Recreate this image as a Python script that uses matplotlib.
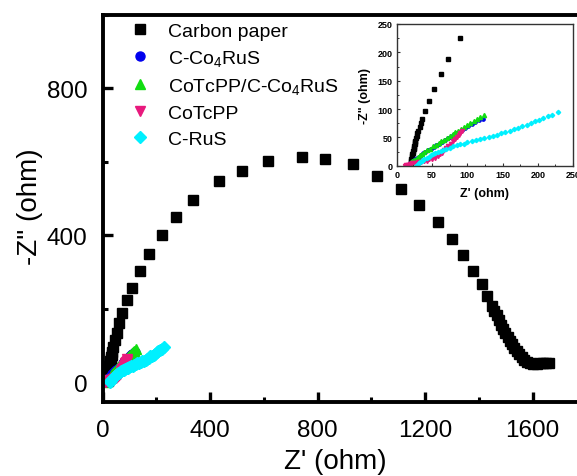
import matplotlib
matplotlib.use("Agg")
import matplotlib.pyplot as plt
from matplotlib.ticker import MultipleLocator

plt.rcParams['font.family'] = ['Liberation Sans', 'DejaVu Sans']
plt.rcParams['mathtext.fontset'] = 'custom'
plt.rcParams['mathtext.rm'] = 'Liberation Sans'
plt.rcParams['mathtext.it'] = 'Liberation Sans:italic'
plt.rcParams['mathtext.bf'] = 'Liberation Sans:bold'

# ---------------- data (ohm) ----------------
cp_x = [19, 19.5, 20, 20.5, 21, 21.5, 22, 22.5, 23, 23.5, 24, 24.5, 25, 25.5, 26, 27, 28, 29,
        30.5, 32, 34, 36, 40, 46, 53, 62, 73, 90, 111, 139, 174, 221, 273, 338, 433, 518,
        617, 741, 828, 931, 1020, 1111, 1179, 1250, 1299, 1340, 1380, 1411, 1430, 1450,
        1458, 1467, 1476, 1484, 1491, 1499, 1507, 1516, 1524, 1532, 1541, 1550, 1560, 1569,
        1578, 1590, 1603, 1615, 1628, 1640, 1652, 1660]
cp_y = [2, 5, 8, 11, 14, 17, 20, 23, 26, 29, 32, 35, 38, 41, 44, 48, 52, 57,
        62, 69, 75, 82, 97, 115, 135, 161, 189, 225, 257, 303, 348, 401, 449, 497, 548, 574,
        602, 612, 609, 593, 562, 525, 482, 436, 391, 347, 304, 268, 236, 207,
        195, 182, 168, 155, 145, 133, 123, 113, 103, 94, 86, 77, 68, 60,
        55, 51, 50, 50, 51, 52, 53, 53]

co4_x = [15, 17, 19, 21, 23, 25, 28, 31, 34, 37, 40, 44, 48, 52, 56, 60, 64, 68, 72, 76,
         80, 84, 88, 92, 96, 101, 106, 111, 116, 122]
co4_y = [1, 3, 5, 7, 9, 11, 13, 16, 19, 22, 24, 27, 30, 33, 36, 39, 42, 45, 48, 51,
         54, 57, 60, 63, 66, 70, 74, 77, 80, 83]

tcpp_co4_x = [14, 16, 18, 20, 22, 24, 27, 30, 33, 36, 39, 43, 47, 51, 55, 59, 63, 67, 71, 75,
              79, 83, 87, 91, 95, 99, 104, 109, 114, 118, 123]
tcpp_co4_y = [0, 2, 4, 6, 8, 10, 12, 15, 18, 21, 24, 27, 30, 34, 37, 40, 43, 46, 49, 52,
              56, 59, 62, 65, 68, 71, 75, 79, 83, 86, 89]

tcpp_x = [11, 13, 16, 19, 22, 26, 30, 34, 38, 42, 46, 50, 54, 58, 61, 64, 67, 70, 73, 76,
          79, 82, 85, 88, 90, 92]
tcpp_y = [0, 1, 2, 3, 4, 5, 6, 7, 8, 9, 11, 12, 14, 17, 20, 23, 27, 31, 35, 39,
          43, 47, 51, 55, 58, 62]

rus_x = [27, 29, 31, 33, 35, 37, 39, 42, 45, 48, 51, 54, 58, 62, 66, 70, 75, 80, 85, 90,
         95, 100, 106, 112, 118, 124, 130, 136, 142, 148, 154, 160, 166, 172, 178, 184,
         190, 196, 202, 208, 214, 220, 228]
rus_y = [0, 2, 4, 6, 8, 10, 12, 14, 16, 18, 20, 22, 24, 26, 28, 30, 32, 34, 36, 38,
         39, 41, 43, 45, 47, 49, 51, 53, 55, 57, 59, 61, 64, 67, 70, 72,
         75, 78, 81, 84, 87, 90, 95]

labels = ['Carbon paper', 'C-Co$_4$RuS', 'CoTcPP/C-Co$_4$RuS', 'CoTcPP', 'C-RuS']
colors = ['#000000', '#0000ee', '#11dd11', '#e8197d', '#00f0ff']
markers = ['s', 'o', '^', 'v', 'D']
main_ms = [7, 6.5, 7, 7, 5.8]
inset_ms = [2.8, 2.4, 3.0, 3.0, 2.2]
series = [(cp_x, cp_y), (co4_x, co4_y), (tcpp_co4_x, tcpp_co4_y), (tcpp_x, tcpp_y), (rus_x, rus_y)]

x_ticks_main = [0, 400, 800, 1200, 1600]
y_ticks_main = [0, 400, 800]

# ---------------- figure ----------------
W, H = 577, 477
fig = plt.figure(figsize=(W / 100, H / 100), dpi=100)

L, R, T, B = 102.5, 586.25, 16, 403
ax = fig.add_axes([L / W, (H - B) / H, (R - L) / W, (B - T) / H])

for (xs, ys), lab, c, m, ms in zip(series, labels, colors, markers, main_ms):
    ax.plot(xs, ys, linestyle='none', marker=m, ms=ms, color=c, mec=c, label=lab)

ax.set_xlim(0, 1800)
ax.set_ylim(-54, 1000)
ax.set_xticks(x_ticks_main)
ax.set_yticks(y_ticks_main)
ax.xaxis.set_minor_locator(MultipleLocator(200))
ax.yaxis.set_minor_locator(MultipleLocator(200))
for s in ['left', 'bottom', 'top']:
    ax.spines[s].set_linewidth(2.8)
ax.spines['right'].set_visible(False)
ax.tick_params(which='both', direction='in', top=False, right=False)
ax.tick_params(which='major', length=7, width=2.4, labelsize=17.5, pad=11)
ax.tick_params(which='minor', length=3.5, width=2.2)
ax.tick_params(axis='x', which='major', pad=12)

ax.set_xlabel("Z' (ohm)", fontsize=20)
ax.set_ylabel('-Z" (ohm)', fontsize=20)
ax.xaxis.set_label_coords((335 - L) / (R - L), -0.12)
ax.yaxis.set_label_coords((43 - L) / (R - L), 0.506)

leg = ax.legend(loc='upper left', bbox_to_anchor=(0.0575, 0.982), frameon=False,
                fontsize=14, handlelength=1.0, handletextpad=0.95, borderaxespad=0,
                borderpad=0, labelspacing=0.43)

# ---------------- inset ----------------
iL, iR, iT, iB = 397, 573, 25, 166.7
ia = fig.add_axes([iL / W, (H - iB) / H, (iR - iL) / W, (iB - iT) / H])
for (xs, ys), c, m, ms in zip(series, colors, markers, inset_ms):
    ia.plot(xs, ys, linestyle='none', marker=m, ms=ms, color=c, mec=c)
ia.set_xlim(0, 250)
ia.set_ylim(0, 250)
ia.xaxis.set_major_locator(MultipleLocator(50))
ia.yaxis.set_major_locator(MultipleLocator(50))
ia.xaxis.set_minor_locator(MultipleLocator(25))
ia.yaxis.set_minor_locator(MultipleLocator(25))
for s in ia.spines.values():
    s.set_linewidth(1.0)
    s.set_color('#333333')
ia.tick_params(which='both', direction='in', top=False, right=False, color='#333333')
ia.tick_params(which='major', length=2.5, width=0.8, labelsize=6.5, pad=3)
ia.tick_params(which='minor', length=1.5, width=0.7)
for t in ia.get_xticklabels() + ia.get_yticklabels():
    t.set_fontweight('bold')
ia.set_xlabel("Z' (ohm)", fontsize=9, fontweight='bold')
ia.set_ylabel('-Z" (ohm)', fontsize=9, fontweight='bold')
ia.xaxis.set_label_coords(0.5, -0.15)
ia.yaxis.set_label_coords((371 - iL) / (iR - iL), 0.5)

fig.savefig('out.png', dpi=100)
